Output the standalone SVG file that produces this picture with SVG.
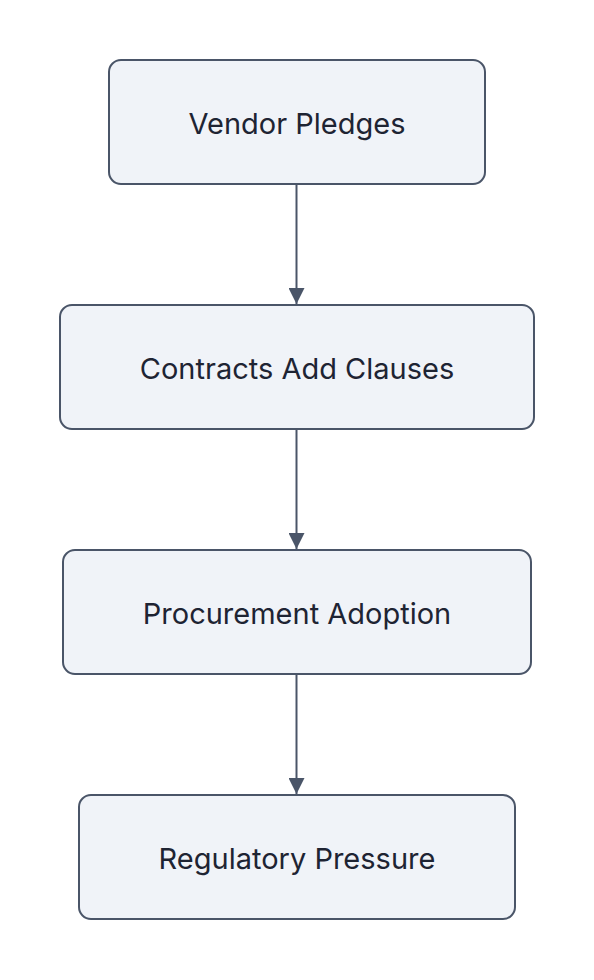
<svg xmlns="http://www.w3.org/2000/svg" width="594" height="980" viewBox="0 0 594 980">
<style>
.node rect{fill:#f0f3f8;stroke:#4a5568;stroke-width:2}
.node text{font-family:Inter,"Noto Sans",sans-serif;font-size:29px;fill:#1e2433;text-anchor:middle;dominant-baseline:central}
.edge{stroke:#4a5568;stroke-width:2;fill:none}
</style>
<defs>
<marker id="arr" markerWidth="16" markerHeight="16" viewBox="0 0 16 16" refX="16" refY="8" orient="auto" markerUnits="userSpaceOnUse">
<path d="M0,0 L16,8 L0,16 Z" fill="#4a5568"/>
</marker>
</defs>
<rect width="594" height="980" fill="#ffffff"/>
<g id="connectors">
<line class="edge" x1="296.5" y1="185" x2="296.5" y2="304" marker-end="url(#arr)"/>
<line class="edge" x1="296.5" y1="430" x2="296.5" y2="549" marker-end="url(#arr)"/>
<line class="edge" x1="296.5" y1="675" x2="296.5" y2="794" marker-end="url(#arr)"/>
</g>
<g id="vendor-pledges" class="node">
<rect x="109" y="60" width="376" height="124" rx="12"/>
<text x="297" y="123">Vendor Pledges</text>
</g>
<g id="contracts-add-clauses" class="node">
<rect x="60" y="305" width="474" height="124" rx="12"/>
<text x="297" y="368">Contracts Add Clauses</text>
</g>
<g id="procurement-adoption" class="node">
<rect x="63" y="550" width="468" height="124" rx="12"/>
<text x="297" y="613">Procurement Adoption</text>
</g>
<g id="regulatory-pressure" class="node">
<rect x="79" y="795" width="436" height="124" rx="12"/>
<text x="297" y="858">Regulatory Pressure</text>
</g>
</svg>
